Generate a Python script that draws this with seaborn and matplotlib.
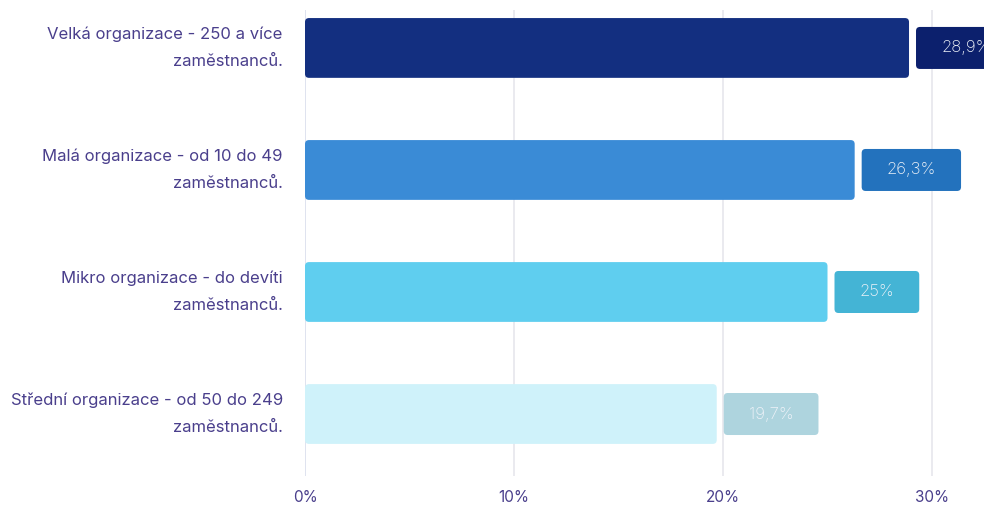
import numpy as np
import pandas as pd
import matplotlib
matplotlib.use("Agg")
import matplotlib.pyplot as plt
import seaborn as sns
from matplotlib.patches import FancyBboxPatch

# Data
categories = [
    "Velká organizace - 250 a více\nzaměstnanců.",
    "Malá organizace - od 10 do 49\nzaměstnanců.",
    "Mikro organizace - do devíti\nzaměstnanců.",
    "Střední organizace - od 50 do 249\nzaměstnanců.",
]
values = [28.9, 26.3, 25.0, 19.7]
value_labels = ["28,9%", "26,3%", "25%", "19,7%"]
bar_colors = ["#132F80", "#3A8BD6", "#5FCEEF", "#CFF2FA"]
box_colors = ["#0C206D", "#2372BD", "#44B4D5", "#AED4DE"]
ticks = [0, 10, 20, 30]
tick_labels = ["0%", "10%", "20%", "30%"]

df = pd.DataFrame({"cat": categories, "val": values})

sns.set_style("white")
plt.rcParams["font.family"] = ["Inter", "DejaVu Sans"]
text_color = "#4A3F8C"

fig = plt.figure(figsize=(9.84, 5.07), dpi=100)
ax = fig.add_axes([305 / 984, 1 - 476 / 507, 1 - 305 / 984, 466 / 507])

sns.barplot(data=df, x="val", y="cat", hue="cat", palette=bar_colors,
            legend=False, width=0.49, ax=ax, saturation=1)

ax.set_xlim(0, (984 - 305) / 20.9)
ax.set_ylim(3.508, -0.311)

# grid
for t in ticks:
    ax.axvline(t, color="#D9DEEC" if t == 0 else "#E6E6EC", lw=1.2, zorder=0)

# rounded bars
x_px = 20.9
y_px = 122.0
for p, c in zip(list(ax.patches), bar_colors):
    x, y, w, h = p.get_x(), p.get_y(), p.get_width(), p.get_height()
    p.remove()
    rb = FancyBboxPatch((x, y), w, h,
                        boxstyle="round,pad=0,rounding_size=%f" % (4 / x_px),
                        mutation_aspect=x_px / y_px, fc=c, ec="none", zorder=2)
    ax.add_patch(rb)

# value boxes
fig.canvas.draw()
renderer = fig.canvas.get_renderer()
for i, (v, lab, bc) in enumerate(zip(values, value_labels, box_colors)):
    t = ax.text(0, i, lab, ha="center", va="center", fontsize=12,
                color="#EEF2F8", fontweight="light", zorder=4)
    ext = t.get_window_extent(renderer)
    tw = ext.width / x_px
    bw = tw + 50 / x_px
    bh = 42 / y_px
    x0 = v + 7 / x_px
    box = FancyBboxPatch((x0, i - bh / 2), bw, bh,
                         boxstyle="round,pad=0,rounding_size=%f" % (4 / x_px),
                         mutation_aspect=x_px / y_px, fc=bc, ec="none", zorder=3)
    ax.add_patch(box)
    t.set_x(x0 + bw / 2)

ax.set_xticks(ticks)
ax.set_xticklabels(tick_labels)
ax.set_xlabel("")
ax.set_ylabel("")
ax.tick_params(axis="x", length=0, pad=10, labelsize=11, labelcolor=text_color)
ax.tick_params(axis="y", length=0, pad=16, labelsize=12, labelcolor=text_color)
for lbl in ax.get_yticklabels():
    lbl.set_linespacing(2.0)
    lbl.set_ha("right")
    lbl.set_va("center")
sns.despine(ax=ax, left=True, bottom=True)

fig.savefig("out.png", dpi=100)
